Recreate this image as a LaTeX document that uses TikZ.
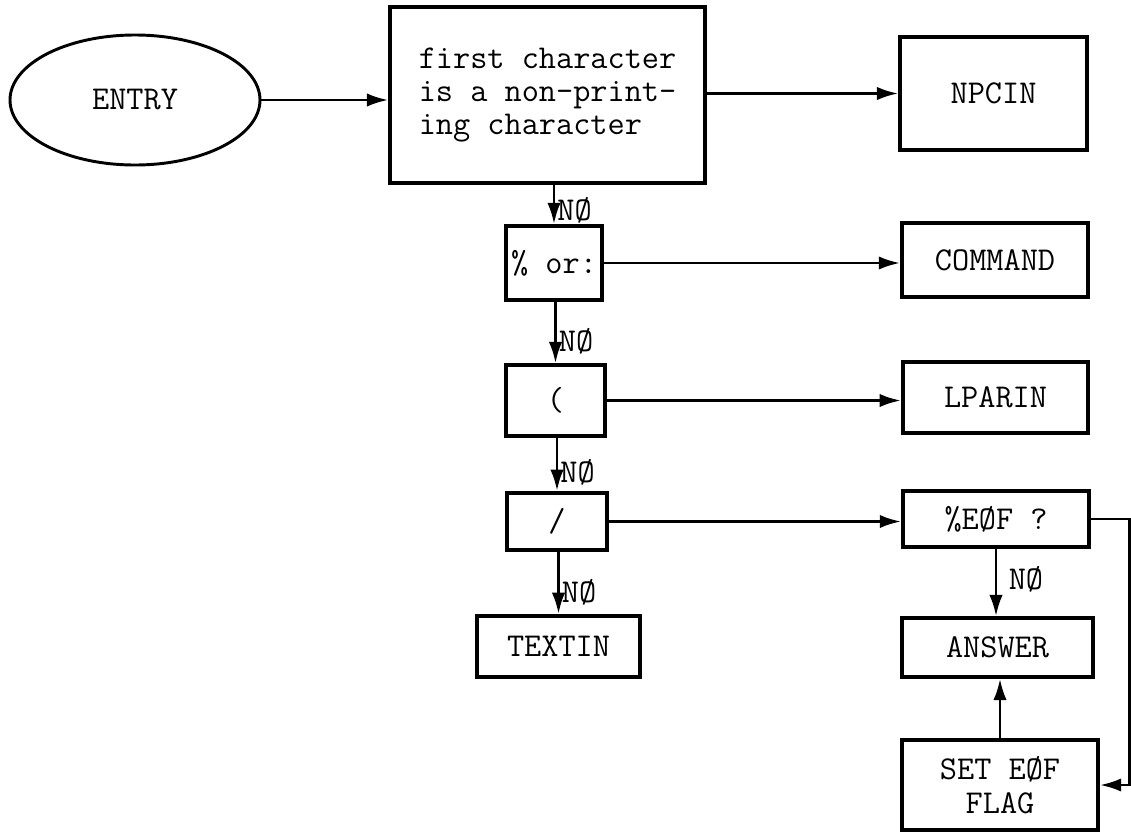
\documentclass[tikz,border=0pt]{standalone}
\usepackage{fontspec}
\usepackage{tikz}
\usetikzlibrary{arrows.meta,positioning,shapes.geometric}
\tikzset{
  txt/.style={font=\ttfamily\fontsize{25}{25}\selectfont},
  box/.style={draw=black, line width=2.8pt, fill=white, inner sep=0pt, txt, align=center},
  oval/.style={ellipse, draw=black, line width=2.2pt, fill=white, inner sep=0pt, txt, minimum width=187.5pt, minimum height=97.5pt},
  flow/.style={-{Latex[length=16pt,width=10pt]}, line width=2.2pt, draw=black},
  nolbl/.style={anchor=west, txt, inner sep=1.5pt, pos=0.65},
}
\begin{document}
\begin{tikzpicture}[x=0.75pt,y=-0.75pt]
  \useasboundingbox (0,0) rectangle (1131,832);
  \node[oval](entry) at (135,100){ENTRY};
  \node[box,align=left,minimum width=236pt,minimum height=132pt](first) at (547.5,95){first character\\is a non-print-\\ing character};
  \node[box,minimum width=140pt,minimum height=85pt](npcin) at (993.5,93.5){NPCIN};
  \node[box,minimum width=72pt,minimum height=55.5pt](pct) at (554,263){\% or:};
  \node[box,minimum width=139.5pt,minimum height=55.5pt](cmd) at (995,260){COMMAND};
  \node[box,minimum width=74pt,minimum height=53pt](lpar) at (555.5,400.5){(};
  \node[box,minimum width=139pt,minimum height=53pt](lparin) at (995.5,397.5){LPARIN};
  \node[box,minimum width=75pt,minimum height=43pt](slash) at (557,521.5){/};
  \node[box,minimum width=139.5pt,minimum height=42pt](eof) at (996,519){\%EØF ?};
  \node[box,minimum width=122pt,minimum height=46pt](textin) at (558.5,646.5){TEXTIN};
  \node[box,minimum width=143pt,minimum height=44pt](answer) at (997.5,647.5){ANSWER};
  \node[box,minimum width=147pt,minimum height=67.5pt](setflag) at (1000,785){SET EØF\\FLAG};
  \draw[flow](entry.east)--(entry.east -| first.west);
  \draw[flow](first.east |- npcin.west)--(npcin.west);
  \draw[flow](pct.north |- first.south)--(pct.north) node[nolbl]{NØ};
  \draw[flow](pct.east)--(pct.east -| cmd.west);
  \draw[flow](lpar.north |- pct.south)--(lpar.north) node[nolbl]{NØ};
  \draw[flow](lpar.east)--(lpar.east -| lparin.west);
  \draw[flow](slash.north |- lpar.south)--(slash.north) node[nolbl]{NØ};
  \draw[flow](slash.east)--(slash.east -| eof.west);
  \draw[flow](textin.north |- slash.south)--(textin.north) node[nolbl]{NØ};
  \draw[flow](eof.south)--(eof.south |- answer.north) node[nolbl,pos=0.45,xshift=7pt]{NØ};
  \draw[flow](setflag.north)--(setflag.north |- answer.south);
  \draw[flow](eof.east)-- ++(39,0) |- (setflag.east);
\end{tikzpicture}
\end{document}
